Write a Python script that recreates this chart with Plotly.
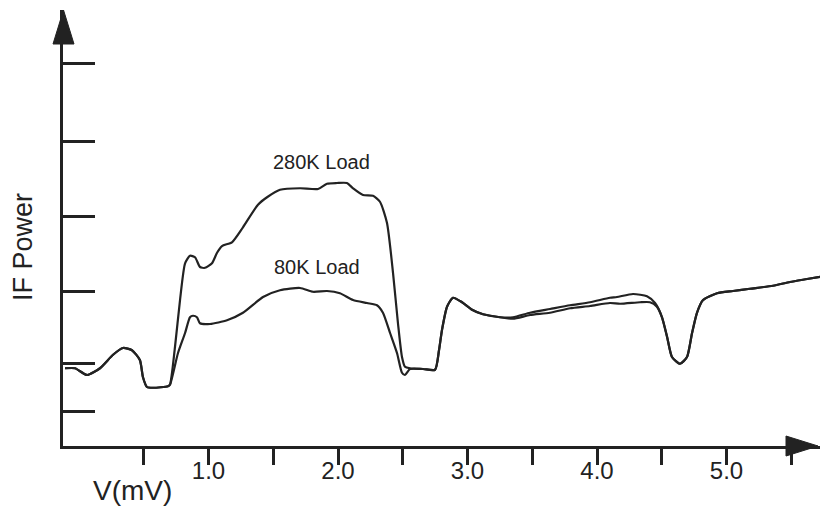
import plotly.graph_objects as go

# ---- data (V in mV, IF power in arbitrary units) ----
v_280 = [-0.108, -0.031, 0.062, 0.162, 0.263, 0.340, 0.409, 0.470, 0.494, 0.525, 0.571, 0.687, 0.702,
         0.741, 0.780, 0.819, 0.857, 0.896, 0.934, 0.973, 1.027, 1.066, 1.104, 1.181, 1.266, 1.382,
         1.452, 1.552, 1.707, 1.846, 1.915, 1.992, 2.069, 2.116, 2.193, 2.270, 2.324, 2.378, 2.425,
         2.463, 2.494, 2.517, 2.556, 2.656, 2.749, 2.780, 2.803, 2.842, 2.888, 2.958, 3.035, 3.120,
         3.251, 3.351, 3.483, 3.637, 3.792, 3.946, 4.100, 4.154, 4.278, 4.386, 4.448, 4.502, 4.541,
         4.579, 4.641, 4.695, 4.734, 4.772, 4.819, 4.927, 5.050, 5.181, 5.359, 5.490, 5.622, 5.722]
p_280 = [0.97, 0.97, 0.88, 0.97, 1.15, 1.24, 1.21, 1.08, 0.85, 0.72, 0.71, 0.73, 0.75,
         1.25, 1.88, 2.37, 2.47, 2.45, 2.32, 2.31, 2.37, 2.51, 2.60, 2.65, 2.85, 3.15,
         3.25, 3.35, 3.37, 3.36, 3.43, 3.44, 3.44, 3.37, 3.28, 3.27, 3.19, 2.91, 2.24,
         1.57, 1.12, 0.99, 0.97, 0.96, 0.95, 1.21, 1.48, 1.79, 1.91, 1.85, 1.75, 1.69,
         1.65, 1.65, 1.71, 1.76, 1.81, 1.85, 1.91, 1.92, 1.96, 1.93, 1.84, 1.65, 1.39,
         1.12, 1.03, 1.12, 1.44, 1.71, 1.88, 1.97, 2.00, 2.03, 2.07, 2.12, 2.16, 2.19]

v_80 = [-0.108, -0.031, 0.062, 0.162, 0.263, 0.340, 0.409, 0.470, 0.494, 0.525, 0.571, 0.687, 0.702,
        0.764, 0.819, 0.857, 0.880, 0.911, 0.934, 1.012, 1.143, 1.266, 1.421, 1.552, 1.707, 1.807,
        1.915, 2.015, 2.116, 2.224, 2.301, 2.347, 2.402, 2.456, 2.494, 2.517, 2.556, 2.656, 2.749,
        2.780, 2.803, 2.842, 2.888, 2.958, 3.035, 3.120, 3.251, 3.351, 3.483, 3.637, 3.792, 3.946,
        4.100, 4.178, 4.332, 4.409, 4.463, 4.502, 4.541, 4.579, 4.641, 4.695, 4.734, 4.772, 4.819,
        4.927, 5.050, 5.181, 5.359, 5.490, 5.622, 5.722]
p_80 = [0.97, 0.97, 0.88, 0.97, 1.15, 1.24, 1.21, 1.08, 0.85, 0.72, 0.71, 0.73, 0.75,
        1.17, 1.44, 1.65, 1.67, 1.65, 1.57, 1.56, 1.61, 1.71, 1.92, 2.01, 2.04, 1.99,
        2.00, 1.97, 1.88, 1.84, 1.81, 1.71, 1.44, 1.17, 0.91, 0.88, 0.96, 0.96, 0.95,
        1.21, 1.48, 1.79, 1.91, 1.85, 1.75, 1.69, 1.65, 1.63, 1.68, 1.71, 1.77, 1.80,
        1.84, 1.83, 1.85, 1.85, 1.79, 1.65, 1.39, 1.12, 1.03, 1.12, 1.44, 1.71, 1.88,
        1.97, 2.00, 2.03, 2.07, 2.12, 2.16, 2.19]

x_tickvals = [0.5, 1.0, 1.5, 2.0, 2.5, 3.0, 3.5, 4.0, 4.5, 5.0, 5.5]
x_ticktext = ["", "1.0", "", "2.0", "", "3.0", "", "4.0", "", "5.0", ""]
y_tickvals = [0.40, 1.04, 2.0, 3.0, 4.0, 5.04]

labels = ["280K Load", "80K Load"]
label_x = [1.87, 1.84]
label_y = [3.72, 2.32]

# ---- layout geometry (pixels) ----
W, H = 820, 508
L, R, T, B = 63, 0, 10, 62
INK = "#222222"
FONT = "Liberation Sans, Arial, Helvetica, sans-serif"

def px(xp):
    return (xp - L) / (W - L - R)

def py(yp):
    return (H - B - yp) / (H - T - B)

fig = go.Figure()
for v, p in [(v_280, p_280), (v_80, p_80)]:
    fig.add_trace(go.Scatter(x=v, y=p, mode="lines",
                             line=dict(color=INK, width=2.2, shape="spline", smoothing=0.6),
                             showlegend=False, hoverinfo="skip"))

for t, lx, ly in zip(labels, label_x, label_y):
    fig.add_annotation(x=lx, y=ly, text=t, showarrow=False, xref="x", yref="y",
                       xanchor="center", yanchor="middle",
                       font=dict(family=FONT, size=20, color=INK))

fig.add_annotation(x=px(23), y=py(247), xref="paper", yref="paper", text="IF Power",
                   textangle=-90, showarrow=False, xanchor="center", yanchor="middle",
                   font=dict(family=FONT, size=27, color=INK))
fig.add_annotation(x=px(132), y=py(490), xref="paper", yref="paper", text="V(mV)",
                   showarrow=False, xanchor="center", yanchor="middle",
                   font=dict(family=FONT, size=28, color=INK))

# arrowheads
fig.add_shape(type="path", xref="paper", yref="paper",
              path=f"M {px(786)} {py(436)} L {px(818)} {py(446)} L {px(786)} {py(456)} Z",
              fillcolor=INK, line=dict(color=INK, width=1))
fig.add_shape(type="path", xref="paper", yref="paper",
              path=f"M {px(53)} {py(44)} L {px(63.5)} {py(10)} L {px(74)} {py(44)} Z",
              fillcolor=INK, line=dict(color=INK, width=1))

fig.update_layout(
    width=W, height=H,
    margin=dict(l=L, r=R, t=T, b=B, pad=0),
    paper_bgcolor="white", plot_bgcolor="white",
    xaxis=dict(range=[-0.1236, 5.722], showgrid=False, zeroline=False,
               showline=True, linecolor=INK, linewidth=3,
               tickmode="array", tickvals=x_tickvals, ticktext=x_ticktext,
               ticks="outside", ticklen=16, tickwidth=3, tickcolor=INK,
               tickfont=dict(family=FONT, size=24, color=INK), ticklabelstandoff=-15),
    yaxis=dict(range=[-0.0667, 5.747], showgrid=False, zeroline=False,
               showline=True, linecolor=INK, linewidth=3,
               tickmode="array", tickvals=y_tickvals, showticklabels=False,
               ticks="inside", ticklen=32, tickwidth=3, tickcolor=INK),
)

fig.write_html("out.html", config={"displayModeBar": False, "staticPlot": True},
               post_script="document.body.style.margin='0px';document.body.style.overflow='hidden';")
